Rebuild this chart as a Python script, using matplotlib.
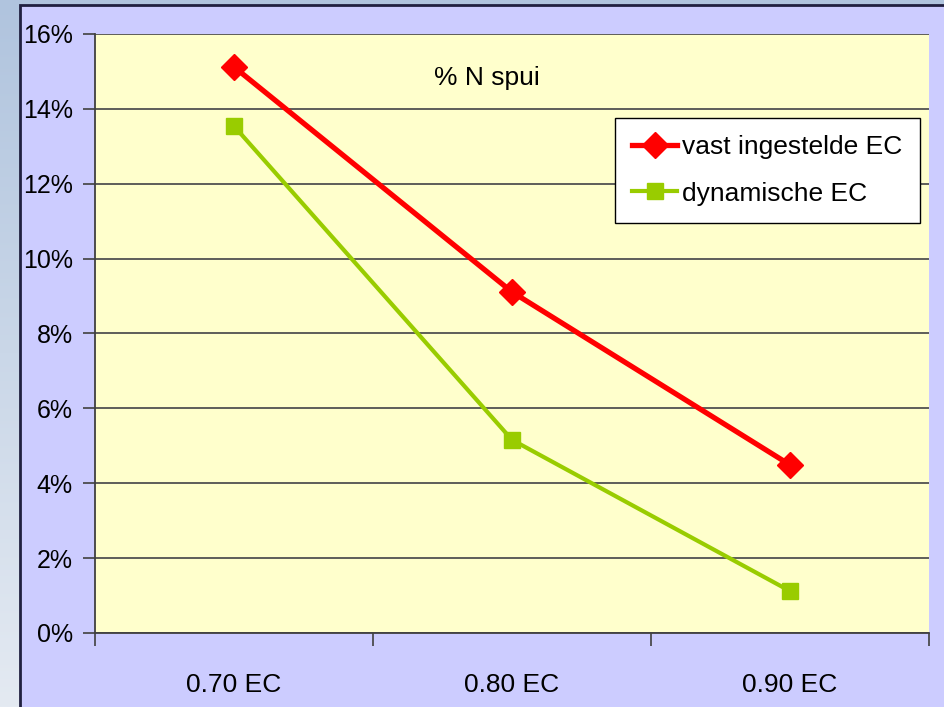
import matplotlib.pyplot as plt
import matplotlib.patches as patches
import numpy as np

# data
categories = ['0.70 EC', '0.80 EC', '0.90 EC']
vast_ec = [15.12, 9.11, 4.49]       # % N spui, vast ingestelde EC
dynamisch_ec = [13.54, 5.16, 1.12]  # % N spui, dynamische EC

plt.rcParams['font.family'] = ['Liberation Sans', 'DejaVu Sans']

W, H = 944, 707
fig = plt.figure(figsize=(W / 100, H / 100), dpi=100)

# background gradient (light steel blue to lighter at the bottom)
bg = fig.add_axes([0, 0, 1, 1], zorder=-10)
top = np.array([176, 196, 222]) / 255
bot = np.array([228, 234, 242]) / 255
t = np.linspace(0, 1, 256)[:, None]
grad = top[None, :] * (1 - t) + bot[None, :] * t
bg.imshow(grad[:, None, :], aspect='auto', extent=[0, 1, 0, 1])
bg.axis('off')

# chart area frame
fig.patches.append(patches.Rectangle((20 / W, -0.05), 1.0, 1 - 5 / H + 0.05,
                                     transform=fig.transFigure, facecolor='#ccccff',
                                     edgecolor='#202040', linewidth=2, zorder=-5))

ax = fig.add_axes([95 / W, (H - 633) / H, (929 - 95) / W, (633 - 34) / H])
ax.set_facecolor('#ffffcc')

x = np.arange(len(categories))
ax.plot(x, vast_ec, color='#ff0000', lw=3.8, marker='D', ms=13,
        label='vast ingestelde EC', zorder=3)
ax.plot(x, dynamisch_ec, color='#99cc00', lw=3.0, marker='s', ms=12,
        label='dynamische EC', zorder=3)

ax.set_xlim(-0.5, 2.5)
ax.set_ylim(0, 16)
ax.set_yticks(np.arange(0, 17, 2))
ax.set_yticklabels([f'{v}%' for v in range(0, 17, 2)], fontsize=18)
ax.set_xticks([-0.5, 0.5, 1.5, 2.5])
ax.set_xticklabels([])
ax.set_xticks(x, minor=True)
ax.set_xticklabels(categories, minor=True, fontsize=19)
ax.tick_params(axis='x', which='minor', length=0, pad=29)
ax.tick_params(axis='x', which='major', length=9, width=1.2, color='#404040', direction='out')
ax.tick_params(axis='y', length=9, width=1.2, color='#404040', pad=7)

ax.grid(axis='y', color='#505050', lw=1.3)
ax.set_axisbelow(True)
for s in ['top', 'right']:
    ax.spines[s].set_visible(False)
for s in ['left', 'bottom']:
    ax.spines[s].set_color('#404040')
    ax.spines[s].set_linewidth(1.3)

ax.text(0.47, 0.927, '% N spui', transform=ax.transAxes, fontsize=19, ha='center', va='center')

leg = ax.legend(loc='upper left', bbox_to_anchor=(615 / W, 1 - 118 / H),
                bbox_transform=fig.transFigure, fontsize=19, frameon=True,
                fancybox=False, edgecolor='black', framealpha=1,
                handlelength=1.7, handletextpad=0.2, borderpad=0.65,
                labelspacing=0.85, borderaxespad=0)
leg.get_frame().set_linewidth(1.0)

fig.savefig('out.png', dpi=100)
